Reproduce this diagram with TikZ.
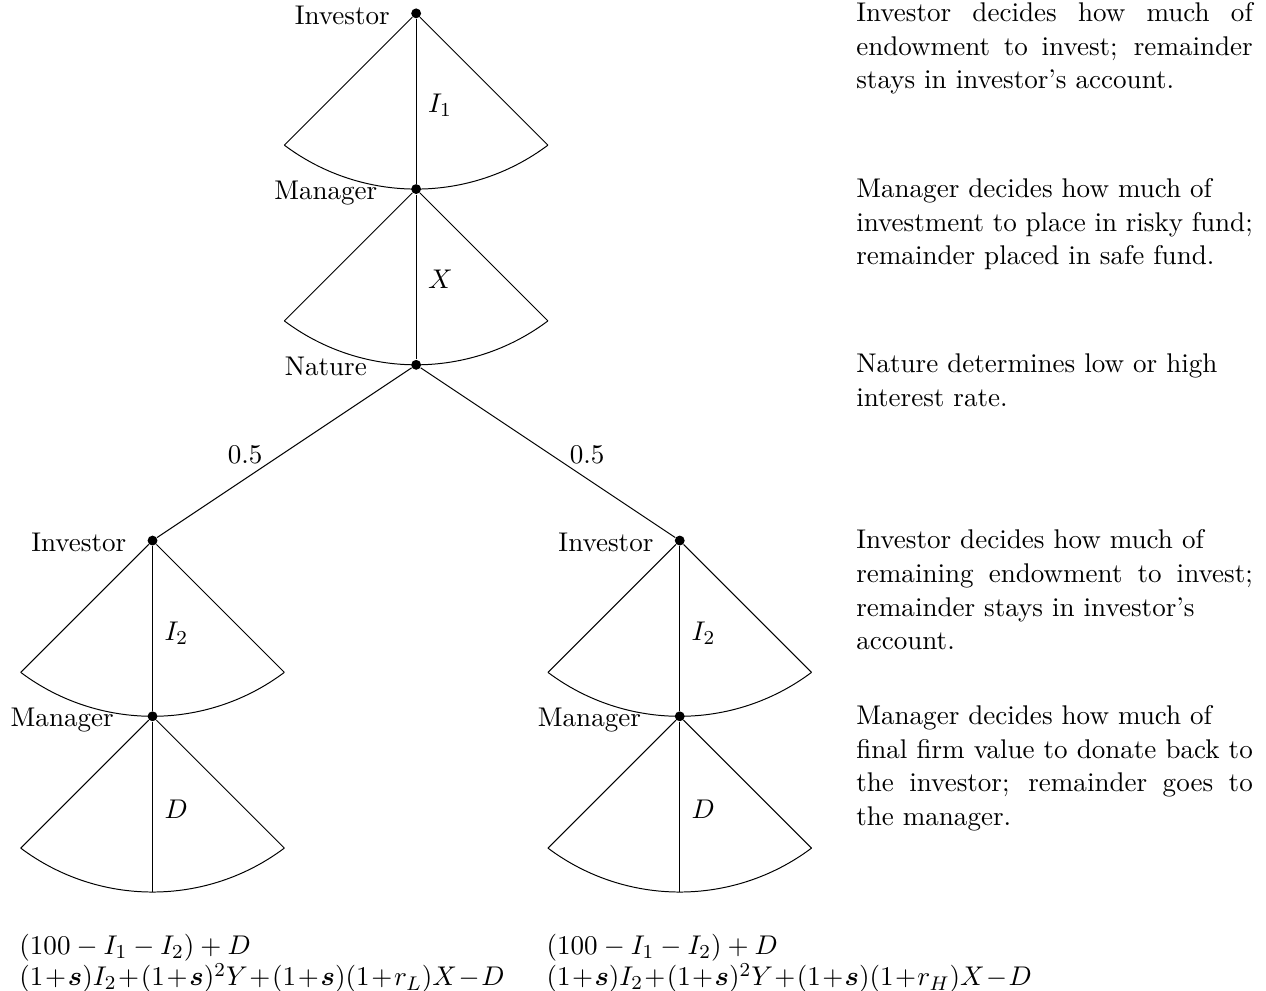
\documentclass[tikz,border=0pt,11pt]{standalone}
\usepackage{amsmath, amssymb}
\usepackage{tikz}
\usetikzlibrary{positioning, calc}
\setlength{\parindent}{0pt}
\hyphenpenalty=10000
\tikzset{
    dot/.style={circle, fill=black, inner sep=0pt, minimum size=4pt},
    act/.style={anchor=base west, xshift=1pt, yshift=-4.7pt},
    probL/.style={anchor=base east, xshift=-5pt, yshift=-4.5pt},
    probR/.style={anchor=base west, xshift=5pt, yshift=-4.5pt},
    note/.style={anchor=north west, inner sep=0pt, text width=5.64cm, align=justify},
    payoff/.style={anchor=north west, inner sep=0pt, text width=6.9cm, align=left},
}
% continuum of actions below a decision node
\newcommand{\actfan}[1]{%
    \path (#1) ++(-1.875,-1.875) coordinate (#1-l) (#1) ++(1.875,-1.875) coordinate (#1-r);
    \draw (#1-l) -- (#1) -- (#1-r);
    \draw (#1-l) arc[start angle=233.13, end angle=306.87, radius=3.125];
}
\begin{document}
\begin{tikzpicture}
    \useasboundingbox (-5.92,-13.9) rectangle (12.09,0.19);

    % DECISION NODES
    \node[dot] (inv1) at (0,0) {};
    \node[dot] (man1) at (0,-2.5) {};
    \node[dot] (nat) at (0,-5) {};
    \node[dot] (invL) at (-3.75,-7.5) {};
    \node[dot] (invR) at (3.75,-7.5) {};
    \node[dot] (manL) at (-3.75,-10) {};
    \node[dot] (manR) at (3.75,-10) {};
    \coordinate (endL) at (-3.75,-12.5);
    \coordinate (endR) at (3.75,-12.5);

    % OWNERS
    \node (tInv1) at (-1.05,-0.03) {Investor};
    \node (tMan1) at (-1.285,-2.55) {Manager};
    \node (tNat) at (-1.285,-5.02) {Nature};
    \node (tInvL) at (-4.8,-7.53) {Investor};
    \node (tInvR) at (2.7,-7.53) {Investor};
    \node (tManL) at (-5.035,-10.05) {Manager};
    \node (tManR) at (2.465,-10.05) {Manager};

    % CONTINUUM FANS
    \actfan{inv1}
    \actfan{man1}
    \actfan{invL}
    \actfan{invR}
    \actfan{manL}
    \actfan{manR}

    % BRANCHES
    \draw (inv1) -- node[act] {$I_1$} (man1);
    \draw (man1) -- node[act] {$X$} (nat);
    \draw (nat) -- node[probL] {0.5} (invL);
    \draw (nat) -- node[probR] {0.5} (invR);
    \draw (invL) -- node[act] {$I_2$} (manL);
    \draw (invR) -- node[act] {$I_2$} (manR);
    \draw (manL) -- node[act] {$D$} (endL);
    \draw (manR) -- node[act] {$D$} (endR);

    % PAYOFFS
    \node[payoff] (payL) at ($(endL)+(-1.9,-0.596)$)
        {$(100-I_1-I_2)+D$\\[-1pt]
         $(1+\boldsymbol{s})I_2+(1+\boldsymbol{s})^2Y+(1+\boldsymbol{s})(1+r_L)X-D$};
    \node[payoff] (payR) at ($(endR)+(-1.9,-0.596)$)
        {$(100-I_1-I_2)+D$\\[-1pt]
         $(1+\boldsymbol{s})I_2+(1+\boldsymbol{s})^2Y+(1+\boldsymbol{s})(1+r_H)X-D$};

    % STAGE NOTES
    \node[note] (note1) at (6.255,0.16)
        {Investor decides how much of endowment to invest; remainder stays in investor's account.};
    \node[note] (note2) at (6.255,-2.34)
        {Manager decides how much of\\ investment to place in risky fund; remainder placed in safe fund.};
    \node[note] (note3) at (6.255,-4.84)
        {Nature determines low or high\\ interest rate.};
    \node[note] (note4) at (6.255,-7.34)
        {Investor decides how much of\\ remaining endowment to invest; remainder stays in investor's\\ account.};
    \node[note] (note5) at (6.255,-9.84)
        {Manager decides how much of\\ final firm value to donate back to the investor; remainder goes to the manager.};
\end{tikzpicture}
\end{document}
